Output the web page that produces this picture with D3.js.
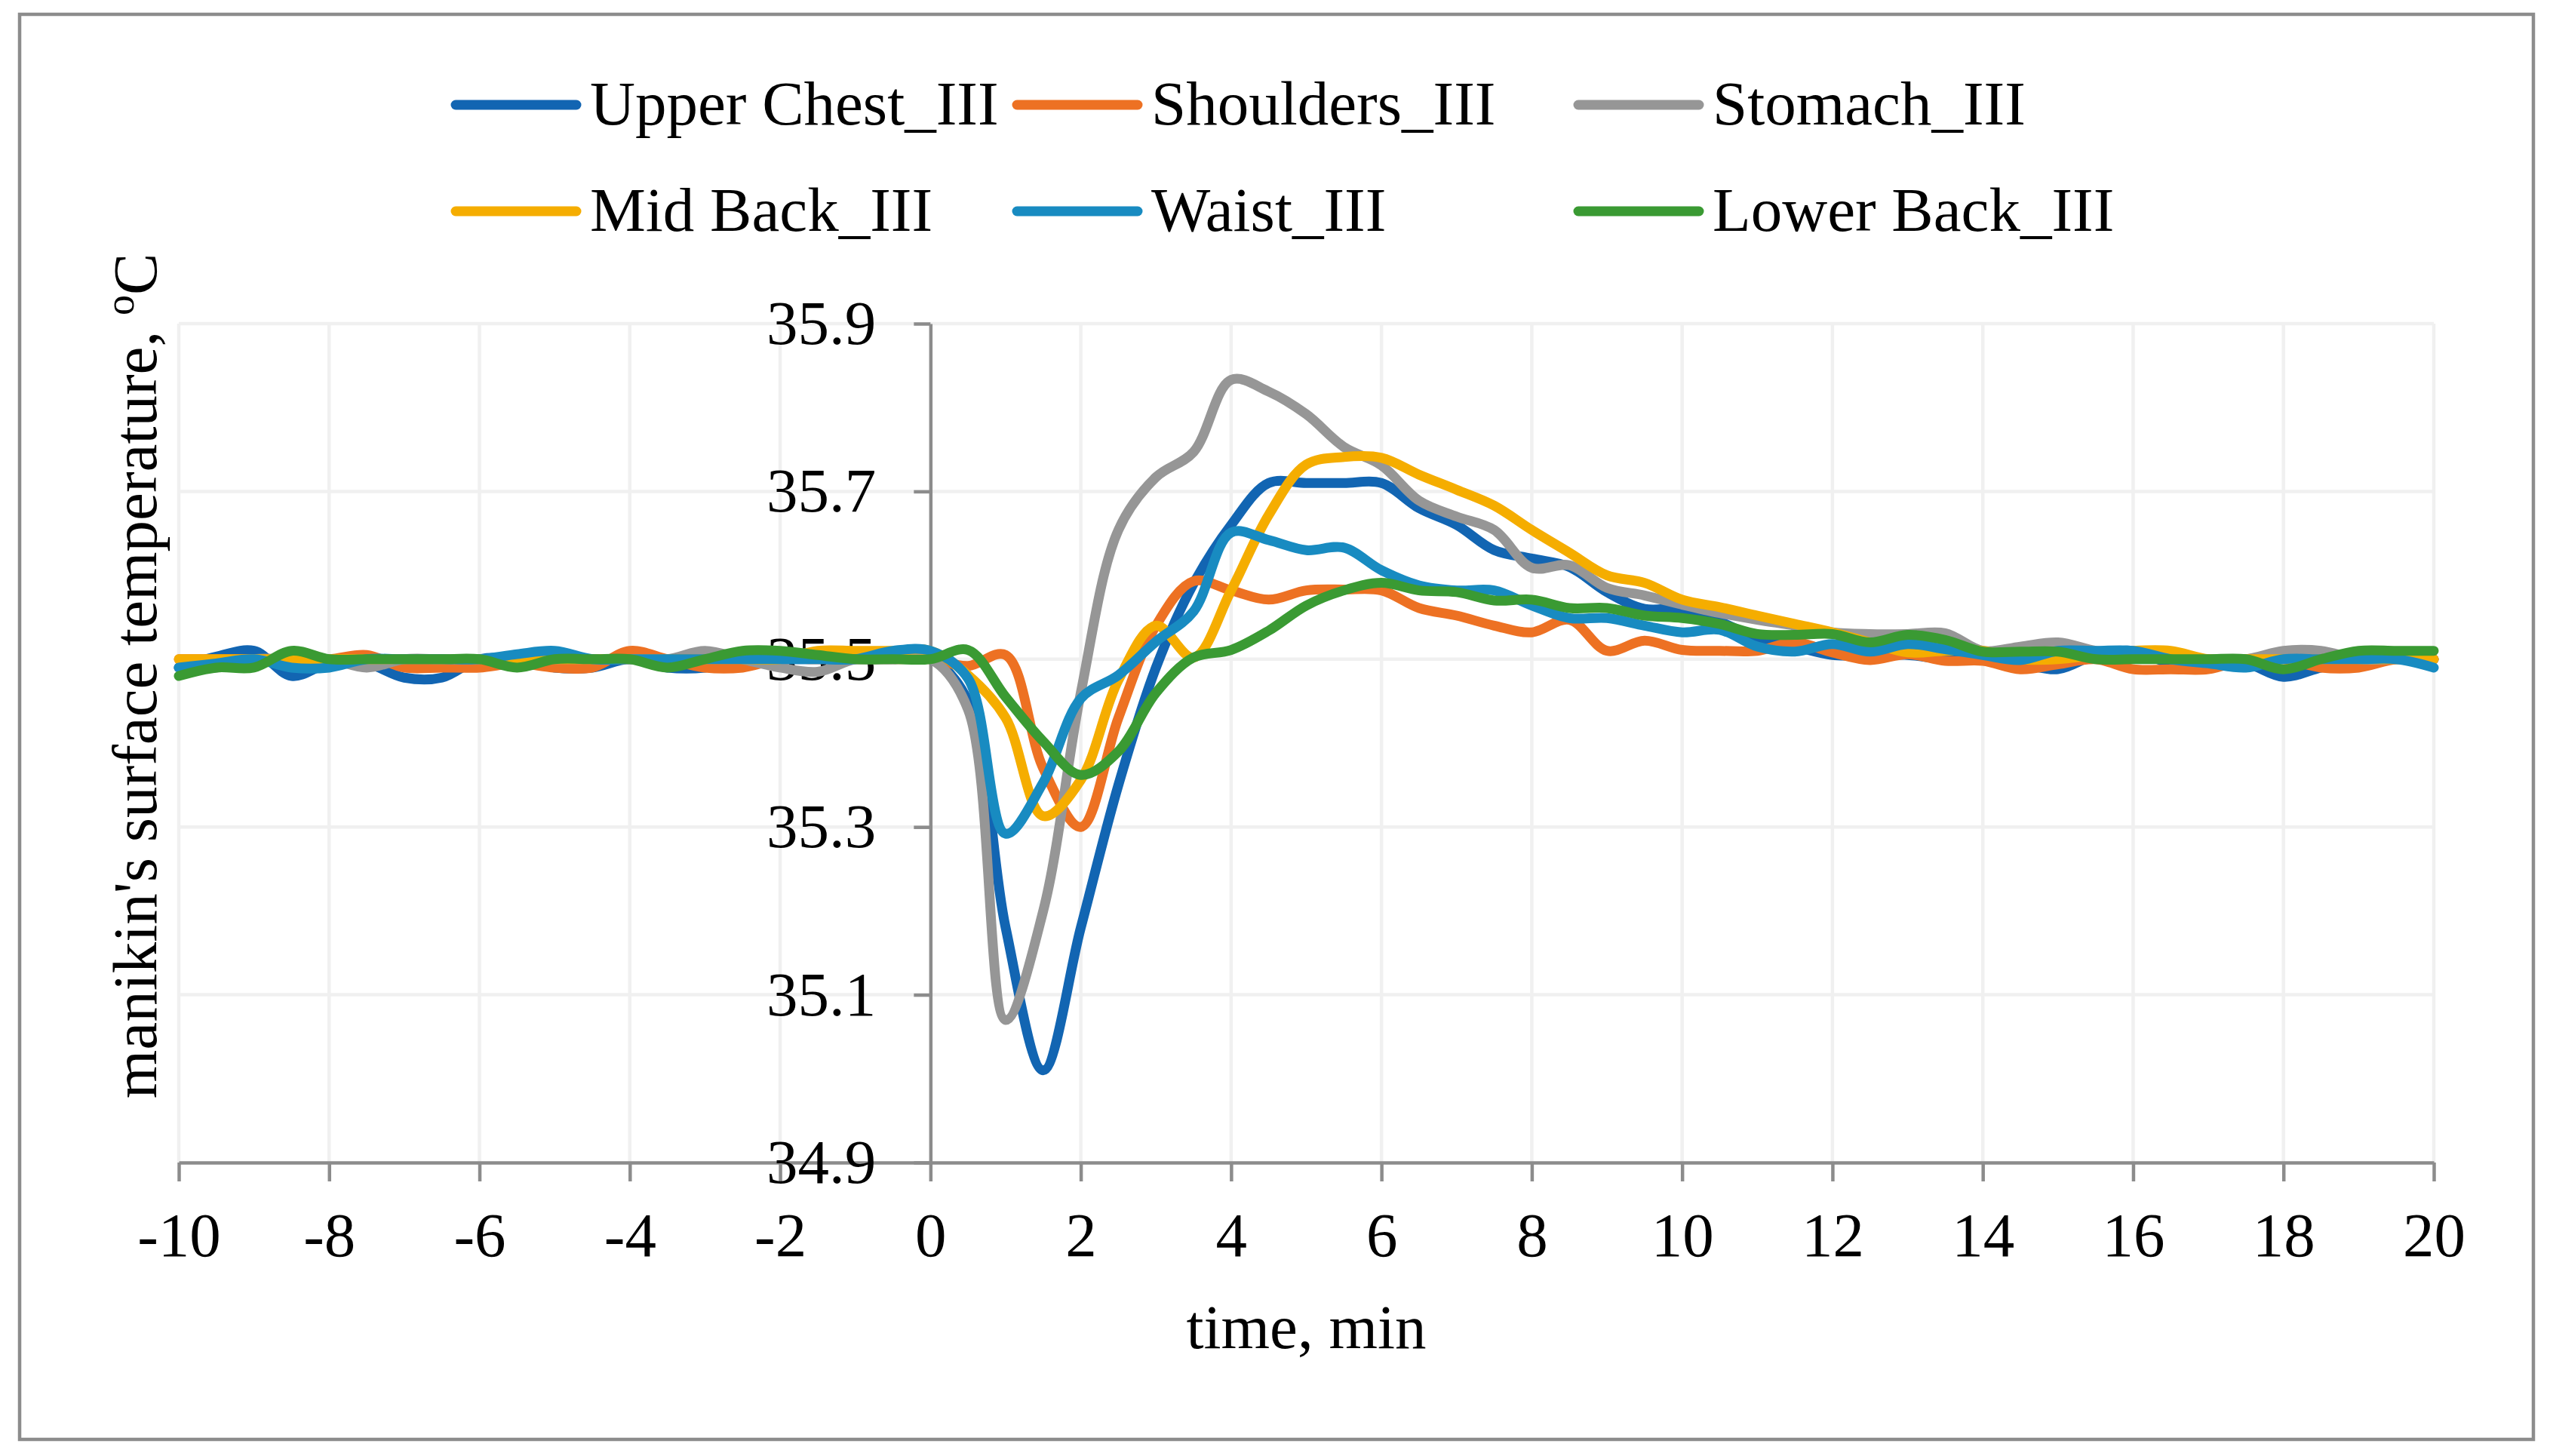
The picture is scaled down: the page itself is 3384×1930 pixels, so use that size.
<!DOCTYPE html>
<html>
<head>
<meta charset="utf-8">
<script src="https://cdn.jsdelivr.net/npm/d3@7"></script>
<style>
	html, body { margin: 0; padding: 0; background: #fff; }
	svg text { font-family: "Liberation Serif", "Times New Roman", serif; fill: #000; }
</style>
</head>
<body>
<svg id="chart" width="3384" height="1930"></svg>
<script>
	'use strict';

	// x categories (min)
	var timeMin = [-10, -9.5, -9, -8.5, -8, -7.5, -7, -6.5, -6, -5.5,
		-5, -4.5, -4, -3.5, -3, -2.5, -2, -1.5, -1, -0.5,
		0, 0.5, 1, 1.5, 2, 2.5, 3, 3.5, 4, 4.5,
		5, 5.5, 6, 6.5, 7, 7.5, 8, 8.5, 9, 9.5,
		10, 10.5, 11, 11.5, 12, 12.5, 13, 13.5, 14, 14.5,
		15, 15.5, 16, 16.5, 17, 17.5, 18, 18.5, 19, 19.5,
		20];

	// surface temperatures, degC
	var upperChest = [35.49, 35.503, 35.51, 35.48, 35.495, 35.495, 35.478, 35.478, 35.50, 35.50,
		35.49, 35.49, 35.50, 35.49, 35.49, 35.50, 35.50, 35.50, 35.50, 35.50,
		35.50, 35.45, 35.18, 35.01, 35.18, 35.35, 35.49, 35.59, 35.66, 35.71,
		35.71, 35.71, 35.71, 35.68, 35.66, 35.63, 35.62, 35.61, 35.58, 35.56,
		35.56, 35.545, 35.525, 35.515, 35.505, 35.505, 35.505, 35.50, 35.50, 35.495,
		35.488, 35.505, 35.51, 35.495, 35.495, 35.495, 35.479, 35.49, 35.50, 35.50,
		35.50];

	var shoulders = [35.50, 35.50, 35.50, 35.50, 35.50, 35.505, 35.49, 35.49, 35.49, 35.495,
		35.49, 35.49, 35.51, 35.50, 35.49, 35.49, 35.50, 35.50, 35.50, 35.50,
		35.50, 35.492, 35.505, 35.37, 35.30, 35.43, 35.54, 35.593, 35.582, 35.571,
		35.582, 35.583, 35.582, 35.561, 35.552, 35.54, 35.532, 35.547, 35.51, 35.522,
		35.511, 35.51, 35.51, 35.52, 35.508, 35.499, 35.506, 35.498, 35.498, 35.488,
		35.494, 35.50, 35.488, 35.488, 35.488, 35.50, 35.50, 35.49, 35.49, 35.50,
		35.50];

	var stomach = [35.49, 35.49, 35.50, 35.50, 35.50, 35.49, 35.50, 35.50, 35.50, 35.50,
		35.50, 35.50, 35.50, 35.50, 35.51, 35.50, 35.49, 35.485, 35.50, 35.50,
		35.50, 35.44, 35.07, 35.20, 35.46, 35.654, 35.717, 35.747, 35.833, 35.819,
		35.792, 35.753, 35.731, 35.689, 35.67, 35.654, 35.609, 35.612, 35.585, 35.576,
		35.565, 35.555, 35.547, 35.54, 35.532, 35.53, 35.53, 35.531, 35.51, 35.515,
		35.52, 35.51, 35.505, 35.50, 35.50, 35.50, 35.51, 35.51, 35.50, 35.50,
		35.50];

	var midBack = [35.50, 35.50, 35.50, 35.50, 35.50, 35.50, 35.50, 35.50, 35.50, 35.50,
		35.50, 35.50, 35.50, 35.50, 35.50, 35.50, 35.50, 35.51, 35.51, 35.51,
		35.51, 35.481, 35.43, 35.313, 35.356, 35.475, 35.54, 35.502, 35.582, 35.672,
		35.732, 35.741, 35.74, 35.72, 35.702, 35.683, 35.654, 35.627, 35.60, 35.591,
		35.571, 35.562, 35.552, 35.542, 35.532, 35.52, 35.508, 35.51, 35.51, 35.50,
		35.50, 35.505, 35.51, 35.51, 35.50, 35.50, 35.50, 35.50, 35.50, 35.50,
		35.50];

	var waist = [35.49, 35.495, 35.50, 35.49, 35.49, 35.50, 35.50, 35.50, 35.50, 35.506,
		35.51, 35.50, 35.50, 35.50, 35.50, 35.50, 35.50, 35.50, 35.50, 35.51,
		35.51, 35.477, 35.292, 35.353, 35.453, 35.481, 35.521, 35.557, 35.651, 35.642,
		35.63, 35.633, 35.606, 35.588, 35.582, 35.582, 35.564, 35.549, 35.549, 35.54,
		35.532, 35.535, 35.515, 35.509, 35.518, 35.509, 35.518, 35.512, 35.505, 35.499,
		35.51, 35.51, 35.51, 35.50, 35.495, 35.49, 35.50, 35.50, 35.50, 35.50,
		35.49];

	var lowerBack = [35.48, 35.49, 35.49, 35.51, 35.50, 35.50, 35.50, 35.50, 35.50, 35.49,
		35.50, 35.50, 35.50, 35.49, 35.50, 35.51, 35.51, 35.505, 35.50, 35.50,
		35.50, 35.511, 35.455, 35.402, 35.362, 35.39, 35.46, 35.502, 35.511, 35.534,
		35.564, 35.582, 35.591, 35.582, 35.58, 35.57, 35.571, 35.561, 35.561, 35.552,
		35.549, 35.542, 35.53, 35.529, 35.53, 35.52, 35.529, 35.523, 35.509, 35.509,
		35.509, 35.50, 35.50, 35.50, 35.50, 35.50, 35.488, 35.50, 35.51, 35.51,
		35.51];

	var seriesNames = ['Upper Chest_III', 'Shoulders_III', 'Stomach_III', 'Mid Back_III', 'Waist_III', 'Lower Back_III'];
	var seriesValues = [upperChest, shoulders, stomach, midBack, waist, lowerBack];
	var seriesColors = ['#1265b2', '#ed7123', '#969696', '#f5ad00', '#188bc1', '#3a9a33'];

	var xTicks = [-10, -8, -6, -4, -2, 0, 2, 4, 6, 8, 10, 12, 14, 16, 18, 20];
	var yTicks = [34.9, 35.1, 35.3, 35.5, 35.7, 35.9];

	var xTitle = 'time, min';
	var yTitle = "manikin's surface temperature, ";

	// layout
	var width = 3384,
		height = 1930,
		plot = {left: 237, right: 3226, top: 429, bottom: 1541},
		fontSize = 83,
		axisColor = '#8c8c8c',
		gridColor = '#f0f0f0';

	var svg = d3.select('#chart');

	var x = d3.scaleLinear().domain([-10, 20]).range([plot.left, plot.right]);
	var y = d3.scaleLinear().domain([34.9, 35.9]).range([plot.bottom, plot.top]);

	// chart border
	svg.append('rect')
		.attr('x', 26)
		.attr('y', 19)
		.attr('width', 3332)
		.attr('height', 1889)
		.attr('fill', '#fff')
		.attr('stroke', axisColor)
		.attr('stroke-width', 4.5);

	// gridlines
	var grid = svg.append('g').attr('class', 'grid');
	grid.selectAll('line.v')
		.data(xTicks.filter(function (d) { return d !== 0; }))
		.enter().append('line')
		.attr('class', 'v')
		.attr('x1', function (d) { return x(d); })
		.attr('x2', function (d) { return x(d); })
		.attr('y1', plot.top)
		.attr('y2', plot.bottom)
		.attr('stroke', gridColor)
		.attr('stroke-width', 4.5);

	grid.selectAll('line.h')
		.data(yTicks.slice(1))
		.enter().append('line')
		.attr('class', 'h')
		.attr('x1', plot.left)
		.attr('x2', plot.right)
		.attr('y1', function (d) { return y(d); })
		.attr('y2', function (d) { return y(d); })
		.attr('stroke', gridColor)
		.attr('stroke-width', 4.5);

	// x axis at the bottom (34.9)
	var xAxis = svg.append('g')
		.attr('transform', 'translate(0,' + plot.bottom + ')')
		.call(d3.axisBottom(x)
			.tickValues(xTicks)
			.tickSize(25)
			.tickSizeOuter(0)
			.tickFormat(function (d) { return String(d); }));

	// y axis crosses at time 0
	var yAxis = svg.append('g')
		.attr('transform', 'translate(' + x(0) + ',0)')
		.call(d3.axisLeft(y)
			.tickValues(yTicks)
			.tickSize(22)
			.tickSizeOuter(0)
			.tickFormat(function (d) { return d.toFixed(1); }));

	[xAxis, yAxis].forEach(function (a) {
		a.select('.domain').attr('stroke', axisColor).attr('stroke-width', 4.5);
		a.selectAll('.tick line').attr('stroke', axisColor).attr('stroke-width', 4.5);
		a.selectAll('.tick text')
			.attr('font-size', fontSize)
			.attr('font-family', '"Liberation Serif", "Times New Roman", serif')
			.attr('fill', '#000');
	});

	xAxis.selectAll('.tick text').attr('y', 124).attr('dy', 0);
	yAxis.selectAll('.tick text').attr('x', -72).attr('dy', '0.32em');

	// series
	var line = d3.line()
		.x(function (d) { return x(d[0]); })
		.y(function (d) { return y(d[1]); })
		.curve(d3.curveCatmullRom.alpha(0.5));

	svg.append('g').attr('class', 'series')
		.selectAll('path')
		.data(seriesValues)
		.enter().append('path')
		.attr('d', function (vals) {
			return line(vals.map(function (v, i) { return [timeMin[i], v]; }));
		})
		.attr('fill', 'none')
		.attr('stroke', function (d, i) { return seriesColors[i]; })
		.attr('stroke-width', 13)
		.attr('stroke-linejoin', 'round')
		.attr('stroke-linecap', 'round');

	// axis titles
	svg.append('text')
		.attr('x', (plot.left + plot.right) / 2)
		.attr('y', 1787)
		.attr('text-anchor', 'middle')
		.attr('font-size', fontSize)
		.text(xTitle);

	var yt = svg.append('text')
		.attr('transform', 'translate(207,896) rotate(-90)')
		.attr('text-anchor', 'middle')
		.attr('font-size', fontSize);
	yt.append('tspan').text(yTitle);
	yt.append('tspan').attr('font-size', fontSize * 0.65).attr('dy', -30).text('o');
	yt.append('tspan').attr('dy', 30).text('C');

	// legend, 3 columns x 2 rows
	var legendCols = [598, 1342, 2086],
		legendRows = [139, 280];

	var legend = svg.append('g').attr('class', 'legend')
		.selectAll('g')
		.data(seriesNames)
		.enter().append('g')
		.attr('transform', function (d, i) {
			return 'translate(' + legendCols[i % 3] + ',' + legendRows[Math.floor(i / 3)] + ')';
		});

	legend.append('line')
		.attr('x1', 6)
		.attr('x2', 166)
		.attr('y1', 0)
		.attr('y2', 0)
		.attr('stroke', function (d, i) { return seriesColors[i]; })
		.attr('stroke-width', 13)
		.attr('stroke-linecap', 'round');

	legend.append('text')
		.attr('x', 184)
		.attr('y', 26)
		.attr('font-size', fontSize)
		.text(function (d) { return d; });
</script>
</body>
</html>
